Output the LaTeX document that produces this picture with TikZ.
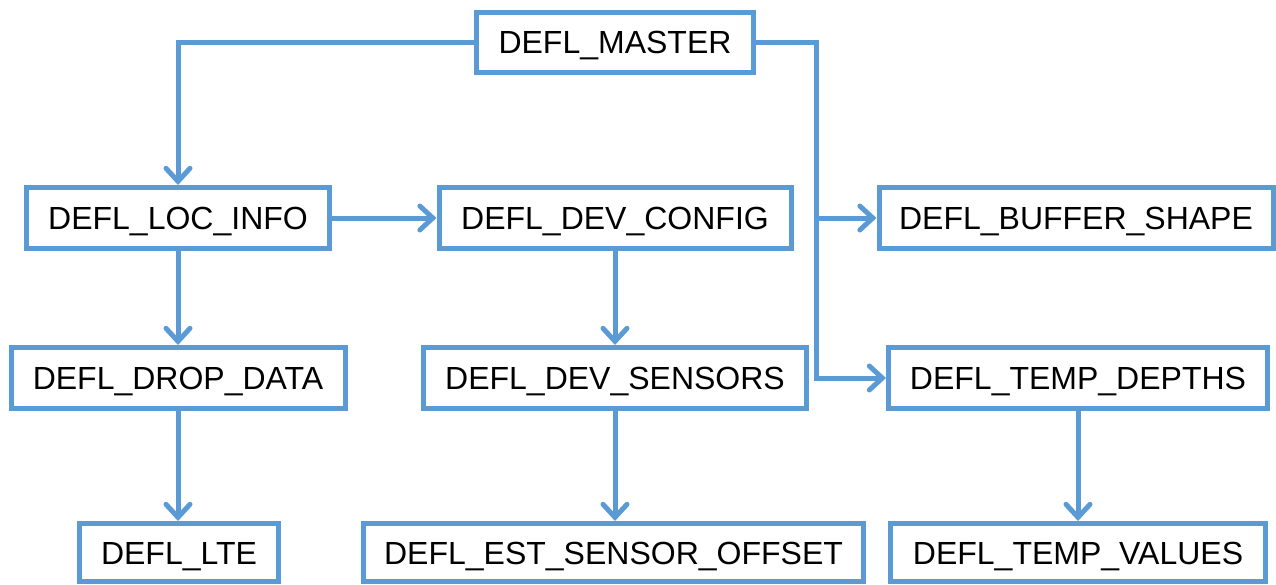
\documentclass[tikz,border=0pt]{standalone}
\usepackage{fontspec}
\setmainfont{Liberation Sans}
\usetikzlibrary{arrows.meta}
\definecolor{lineblue}{HTML}{5B9BD5}
\tikzset{
  box/.style={draw=lineblue, line width=5pt, fill=white, inner sep=0pt,
    text height=23pt, text depth=0pt, font=\fontsize{32}{38}\selectfont},
  arr/.style={draw=lineblue, line width=5pt,
    -{Straight Barb[length=13pt, width=24pt, line cap=round]}}
}
\begin{document}
\begin{tikzpicture}[x=1pt, y=-1pt]
\useasboundingbox (0,0) rectangle (1276,584);
\node[box, minimum width=277pt, minimum height=60pt] (master) at (615,42) {DEFL\_MASTER};
\node[box, minimum width=303pt, minimum height=61pt] (loc) at (178,218) {DEFL\_LOC\_INFO};
\node[box, minimum width=352pt, minimum height=61pt] (devcfg) at (615,218) {DEFL\_DEV\_CONFIG};
\node[box, minimum width=394pt, minimum height=61pt] (buffer) at (1076,218) {DEFL\_BUFFER\_SHAPE};
\node[box, minimum width=334pt, minimum height=61pt] (drop) at (178,378) {DEFL\_DROP\_DATA};
\node[box, minimum width=383pt, minimum height=61pt] (sensors) at (615,378) {DEFL\_DEV\_SENSORS};
\node[box, minimum width=379pt, minimum height=61pt] (depths) at (1078,378) {DEFL\_TEMP\_DEPTHS};
\node[box, minimum width=199pt, minimum height=58pt] (lte) at (179,552.5) {DEFL\_LTE};
\node[box, minimum width=500pt, minimum height=58pt] (est) at (613.5,552.5) {DEFL\_EST\_SENSOR\_OFFSET};
\node[box, minimum width=375pt, minimum height=58pt] (values) at (1078,552.5) {DEFL\_TEMP\_VALUES};
\coordinate (bus) at (816,0);
\draw[arr] (master.west) -| (loc.north);
\draw[arr] (master.east) -| (bus |- depths) -- (depths.west);
\draw[arr] (bus |- buffer) -- (buffer.west);
\draw[arr] (loc.east) -- (devcfg.west);
\draw[arr] (loc.south) -- (drop.north);
\draw[arr] (devcfg.south) -- (sensors.north);
\draw[arr] (drop.south) -- (drop.south |- lte.north);
\draw[arr] (sensors.south) -- (sensors.south |- est.north);
\draw[arr] (depths.south) -- (depths.south |- values.north);
\end{tikzpicture}
\end{document}
